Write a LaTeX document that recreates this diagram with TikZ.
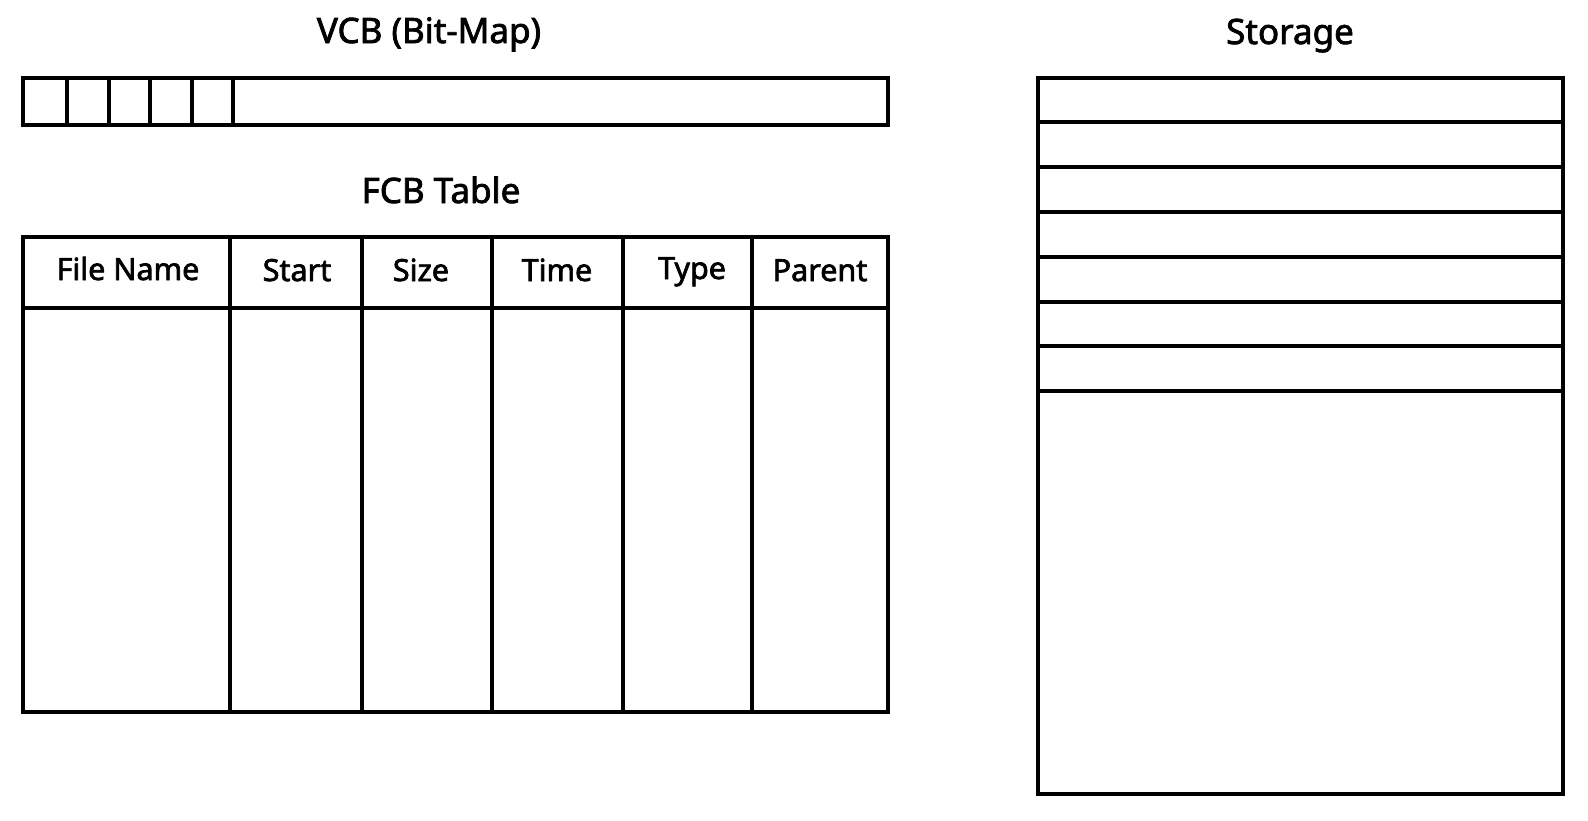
\documentclass[tikz,border=0pt]{standalone}
\usepackage{fontspec}
\setmainfont{Noto Sans}[FakeBold=2.2]
\tikzset{
  box/.style={draw=black, line width=3.5pt, line join=miter},
  sep/.style={draw=black, line width=3.5pt},
  title/.style={font=\fontsize{35}{40}\selectfont, inner sep=0pt, anchor=base},
  head/.style={font=\fontsize{30.5}{36}\selectfont, inner sep=0pt, anchor=base}
}
\begin{document}
\begin{tikzpicture}[x=1pt,y=-1pt]
\useasboundingbox (0,0) rectangle (1588,820);
% titles
\node[title] (tvcb) at (429,43) {VCB (Bit-Map)};
\node[title] (tfcb) at (441,203) {FCB Table};
\node[title] (tsto) at (1290,44) {Storage};
% VCB bar
\draw[box] (23,78) rectangle (888,125);
\foreach \x in {67,109,150,192,233} \draw[sep] (\x,78) -- (\x,125);
% FCB table
\draw[box] (23,237) rectangle (888,712);
\draw[sep] (23,308) -- (888,308);
\foreach \x in {230,362,492,623,752} \draw[sep] (\x,237) -- (\x,712);
\node[head] (h1) at (128,280) {File Name};
\node[head] (h2) at (297,281) {Start};
\node[head] (h3) at (421,281) {Size};
\node[head] (h4) at (557,281) {Time};
\node[head] (h5) at (692,279) {Type};
\node[head] (h6) at (820,281) {Parent};
% Storage
\draw[box] (1038,78) rectangle (1563,794);
\foreach \y in {122,167,212,257,302,346,391} \draw[sep] (1038,\y) -- (1563,\y);
\end{tikzpicture}
\end{document}
